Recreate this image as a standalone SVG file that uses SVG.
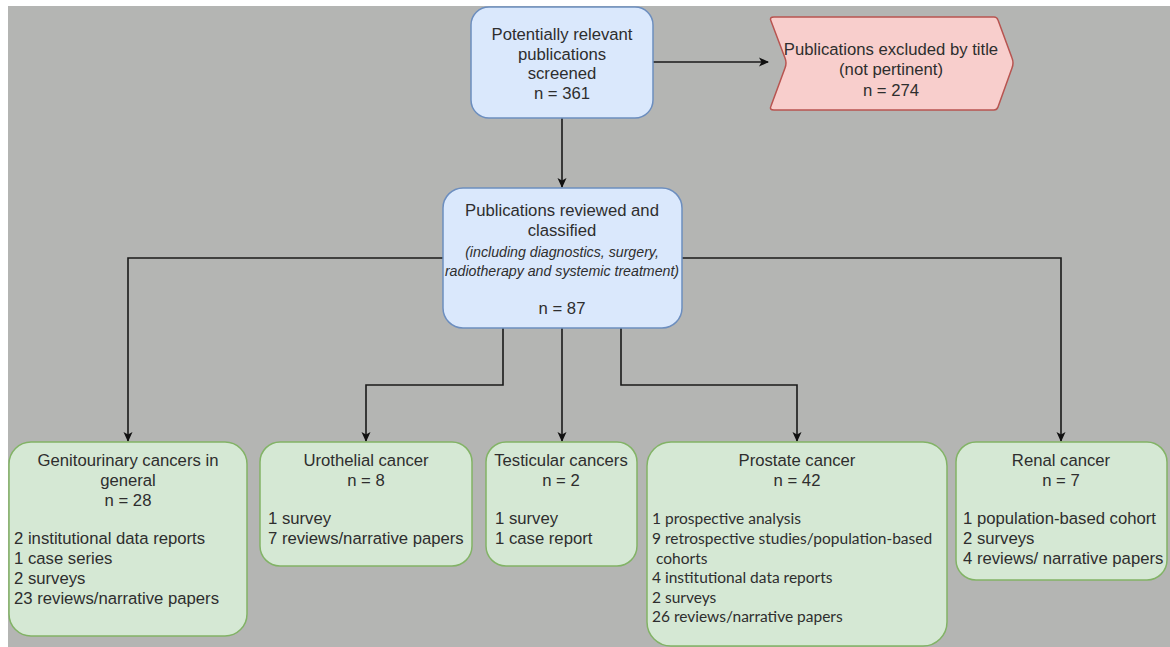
<svg xmlns="http://www.w3.org/2000/svg" width="1170" height="647" viewBox="0 0 1170 647">
<defs>
<marker id="arr" viewBox="0 0 10 10" refX="9" refY="5" markerWidth="10" markerHeight="10" markerUnits="userSpaceOnUse" orient="auto">
<path d="M0,0.5 L10,5 L0,9.5 L2.5,5 Z" fill="#111"/>
</marker>
<style>
.bg{fill:#b4b5b3}
.blue{fill:#dae8fc;stroke:#6c8ebf;stroke-width:1.5}
.red{fill:#f8cecc;stroke:#b85450;stroke-width:1.5}
.green{fill:#d5e8d4;stroke:#82b366;stroke-width:1.5}
text{font-family:"Liberation Sans",Arial,sans-serif;font-size:16.7px;fill:#2e2e2e}
.c{text-anchor:middle}
.it{font-style:italic;font-size:14.2px}
.cal{font-family:Lato,"Open Sans",sans-serif;font-size:15.5px}
.conn{fill:none;stroke:#1a1a1a;stroke-width:1.6}
</style>
</defs>
<rect x="0" y="0" width="1170" height="647" fill="#ffffff"/>
<rect class="bg" x="8" y="6" width="1162" height="641"/>

<g id="connectors">
<path class="conn" d="M653,62 H768" marker-end="url(#arr)"/>
<path class="conn" d="M562,118 V187" marker-end="url(#arr)"/>
<path class="conn" d="M443,258 H128 V441" marker-end="url(#arr)"/>
<path class="conn" d="M682,258 H1061 V441" marker-end="url(#arr)"/>
<path class="conn" d="M503,328 V385 H366 V441" marker-end="url(#arr)"/>
<path class="conn" d="M562,328 V441" marker-end="url(#arr)"/>
<path class="conn" d="M621,328 V385 H797 V441" marker-end="url(#arr)"/>
</g>

<g id="screened">
<rect class="blue" x="471" y="7" width="182" height="111" rx="18"/>
<text class="c" x="562" y="40">Potentially relevant</text>
<text class="c" x="562" y="60">publications</text>
<text class="c" x="562" y="79">screened</text>
<text class="c" x="562" y="99">n = 361</text>
</g>

<g id="excluded">
<path class="red" d="M774,17 H994 Q997,17 998,20 L1012,58 Q1014,63 1012,68 L998,107 Q997,110 994,110 H774 Q769,110 771,106 L785,68 Q787,63 785,58 L771,21 Q769,17 774,17 Z"/>
<text class="c" x="891" y="55">Publications excluded by title</text>
<text class="c" x="891" y="75">(not pertinent)</text>
<text class="c" x="891" y="96">n = 274</text>
</g>

<g id="reviewed">
<rect class="blue" x="443" y="188" width="239" height="140" rx="20"/>
<text class="c" x="562" y="216">Publications reviewed and</text>
<text class="c" x="562" y="236">classified</text>
<text class="c it" x="562" y="257">(including diagnostics, surgery,</text>
<text class="c it" x="562" y="276">radiotherapy and systemic treatment)</text>
<text class="c" x="562" y="314">n = 87</text>
</g>

<g id="genitourinary">
<rect class="green" x="9" y="442" width="238" height="194" rx="22"/>
<text class="c" x="128" y="466">Genitourinary cancers in</text>
<text class="c" x="128" y="486">general</text>
<text class="c" x="128" y="506">n = 28</text>
<text x="14" y="544">2 institutional data reports</text>
<text x="14" y="564">1 case series</text>
<text x="14" y="584">2 surveys</text>
<text x="14" y="604">23 reviews/narrative papers</text>
</g>

<g id="urothelial">
<rect class="green" x="260" y="442" width="212" height="124" rx="20"/>
<text class="c" x="366" y="466">Urothelial cancer</text>
<text class="c" x="366" y="486">n = 8</text>
<text x="268" y="524">1 survey</text>
<text x="268" y="544">7 reviews/narrative papers</text>
</g>

<g id="testicular">
<rect class="green" x="486" y="442" width="151" height="124" rx="20"/>
<text class="c" x="561" y="466">Testicular cancers</text>
<text class="c" x="561" y="486">n = 2</text>
<text x="495" y="524">1 survey</text>
<text x="495" y="544">1 case report</text>
</g>

<g id="prostate">
<rect class="green" x="647" y="442" width="300" height="204" rx="24"/>
<text class="c" x="797" y="466">Prostate cancer</text>
<text class="c" x="797" y="486">n = 42</text>
<text class="cal" x="652" y="524">1 prospective analysis</text>
<text class="cal" x="652" y="544">9 retrospective studies/population-based</text>
<text class="cal" x="656" y="564">cohorts</text>
<text class="cal" x="652" y="583">4 institutional data reports</text>
<text class="cal" x="652" y="603">2 surveys</text>
<text class="cal" x="652" y="622">26 reviews/narrative papers</text>
</g>

<g id="renal">
<rect class="green" x="956" y="442" width="211" height="138" rx="20"/>
<text class="c" x="1061" y="466">Renal cancer</text>
<text class="c" x="1061" y="486">n = 7</text>
<text x="963" y="524">1 population-based cohort</text>
<text x="963" y="544">2 surveys</text>
<text x="963" y="564">4 reviews/ narrative papers</text>
</g>
</svg>
